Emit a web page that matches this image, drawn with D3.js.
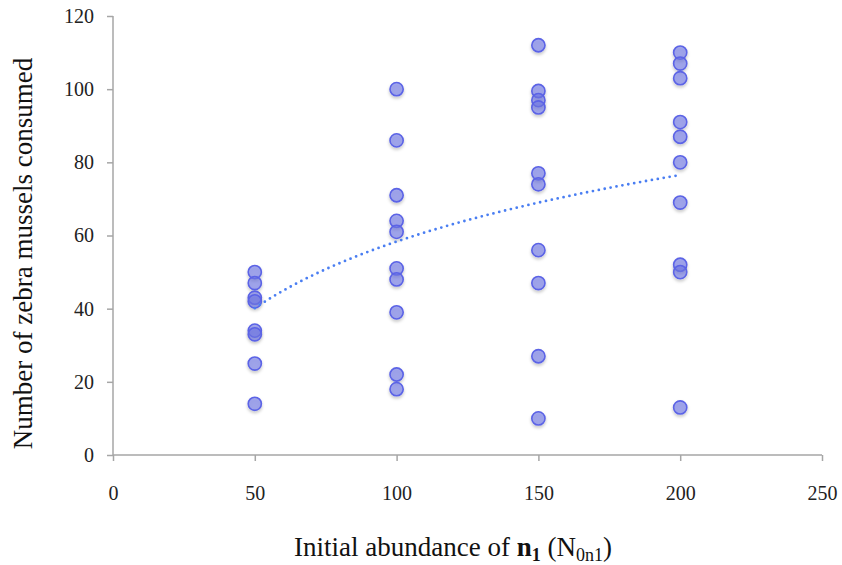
<!DOCTYPE html>
<html>
<head>
<meta charset="utf-8">
<script src="https://cdn.jsdelivr.net/npm/d3@7"></script>
<style>
  body { margin: 0; background: #fff; }
  svg { display: block; font-family: "Liberation Serif", "Times New Roman", serif; }
</style>
</head>
<body>
<div id="chart"></div>
<script>
// initial abundance levels and mussels consumed
const abundance = [50, 100, 150, 200]
const consumed50 = [50, 47, 43, 42, 34, 33, 25, 14]
const consumed100 = [100, 86, 71, 64, 61, 51, 48, 39, 22, 18]
const consumed150 = [112, 99.5, 97, 95, 77, 74, 56, 47, 27, 10]
const consumed200 = [110, 107, 103, 91, 87, 80, 69, 52, 50, 13]

// logarithmic trendline y = a + b*ln(x)
const trendIntercept = -62.6
const trendSlope = 26.26

const xTicks = [0, 50, 100, 150, 200, 250]
const yTicks = [0, 20, 40, 60, 80, 100, 120]

const width = 842, height = 565

const points = []
;[consumed50, consumed100, consumed150, consumed200].forEach((vals, i) => {
    vals.forEach(v => points.push({ x: abundance[i], y: v }))
})

const svg = d3.select("#chart").append("svg")
    .attr("width", width)
    .attr("height", height)

const defs = svg.append("defs")
const shadow = defs.append("filter").attr("id", "shadow")
    .attr("x", "-50%").attr("y", "-50%").attr("width", "200%").attr("height", "200%")
shadow.append("feDropShadow")
    .attr("dx", 0).attr("dy", 2)
    .attr("stdDeviation", 1.4)
    .attr("flood-color", "#000")
    .attr("flood-opacity", 0.25)

const x = d3.scaleLinear().domain([0, 250]).range([113, 822])
const y = d3.scaleLinear().domain([0, 120]).range([455, 16])

// axes
const xAxis = svg.append("g")
    .attr("transform", "translate(0," + y(0) + ")")
    .call(d3.axisBottom(x).tickValues(xTicks).tickSizeInner(6).tickSizeOuter(0).tickPadding(25))
const yAxis = svg.append("g")
    .attr("transform", "translate(" + x(0) + ",0)")
    .call(d3.axisLeft(y).tickValues(yTicks).tickSizeInner(6).tickSizeOuter(0).tickPadding(13))

;[xAxis, yAxis].forEach(g => {
    g.selectAll("path, line").attr("stroke", "#a6a6a6").attr("stroke-width", 1.5)
    g.selectAll("text").attr("fill", "#222").style("font-size", "20px")
        .style("font-family", "'Liberation Serif', serif")
})
xAxis.select(".domain").attr("d", "M" + x(0) + ",0H" + x(250))
yAxis.select(".domain").attr("d", "M0," + y(0) + "V" + y(120))

// points
svg.append("g")
    .selectAll("circle")
    .data(points)
    .enter().append("circle")
    .attr("cx", d => x(d.x))
    .attr("cy", d => y(d.y))
    .attr("r", 6.6)
    .attr("fill", "rgba(112, 120, 232, 0.6)")
    .attr("stroke", "#5b63e6")
    .attr("stroke-width", 1.6)
    .attr("filter", "url(#shadow)")

// trendline
const trendX = d3.range(abundance[0], abundance[abundance.length - 1] + 1, 2)
const trendLine = d3.line()
    .x(d => x(d))
    .y(d => y(trendIntercept + trendSlope * Math.log(d)))
svg.append("path")
    .datum(trendX)
    .attr("d", trendLine)
    .attr("fill", "none")
    .attr("stroke", "#4a7ef2")
    .attr("stroke-width", 2.8)
    .attr("stroke-linecap", "round")
    .attr("stroke-dasharray", "0,6")

// y title
svg.append("text")
    .attr("transform", "translate(32," + ((y(0) + y(120)) / 2 + 18) + ") rotate(-90)")
    .attr("text-anchor", "middle")
    .attr("fill", "#111")
    .style("font-size", "27px")
    .text("Number of zebra mussels consumed")

// x title
const xt = svg.append("text")
    .attr("x", 453)
    .attr("y", 556)
    .attr("text-anchor", "middle")
    .attr("fill", "#111")
    .style("font-size", "27px")
xt.append("tspan").text("Initial abundance of ")
xt.append("tspan").attr("font-weight", "bold").text("n")
xt.append("tspan").attr("font-weight", "bold").attr("dy", 5).style("font-size", "18px").text("1")
xt.append("tspan").attr("dy", -5).text(" (N")
xt.append("tspan").attr("dy", 5).style("font-size", "18px").text("0n1")
xt.append("tspan").attr("dy", -5).text(")")
</script>
</body>
</html>
